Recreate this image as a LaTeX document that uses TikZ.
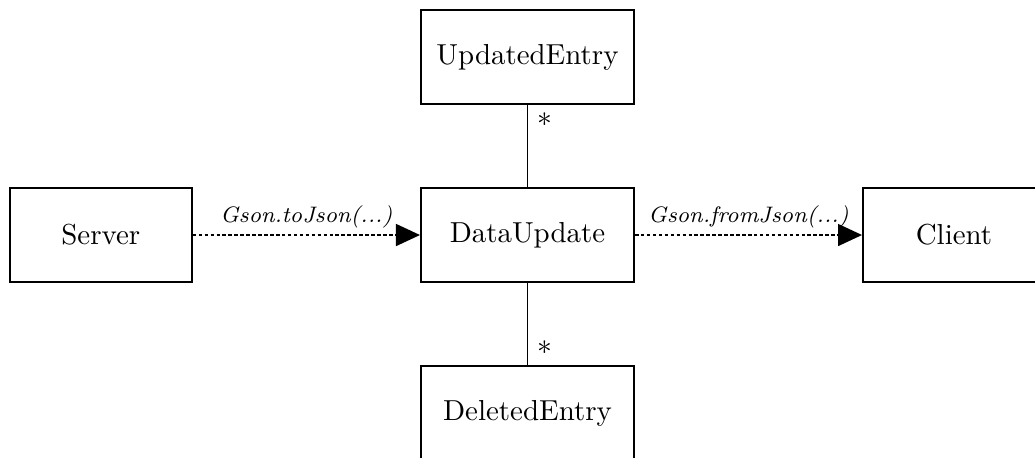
\documentclass[tikz,border=0pt]{standalone}
\usetikzlibrary{arrows.meta}
\begin{document}
\begin{tikzpicture}[x=0.37pt,y=-0.37pt,
  box/.style={draw,line width=0.75pt,minimum width=78.8pt,minimum height=35pt,inner sep=0pt,font=\fontsize{10.7}{13}\selectfont},
  endbox/.style={box,minimum width=67.3pt},
  flow/.style={line width=0.75pt,dash pattern=on 1.3pt off 0.9pt,-{Triangle[length=8.9pt,width=8.1pt]}},
  assoc/.style={line width=0.7pt},
  lbl/.style={font=\fontsize{8.3}{10}\selectfont\itshape,inner sep=2pt},
  mult/.style={inner sep=3.3pt,font=\fontsize{10.7}{13}\selectfont}]
\clip (0,0) rectangle (1035,457);
\node[box] (upd) at (527.5,57) {UpdatedEntry};
\node[box] (du) at (527.5,235) {DataUpdate};
\node[box] (del) at (527.5,413.5) {DeletedEntry};
\node[endbox] (srv) at (100.8,235) {Server};
\node[endbox] (cli) at (954,235) {Client};
\draw[flow] (srv) -- node[lbl,above] {Gson.toJson(...)} (du);
\draw[flow] (du) -- node[lbl,above] {Gson.fromJson(...)} (cli);
\draw[assoc] (du) -- node[mult,right,pos=0.83] {$*$} (upd);
\draw[assoc] (du) -- node[mult,right,pos=0.785] {$*$} (del);
\end{tikzpicture}
\end{document}
